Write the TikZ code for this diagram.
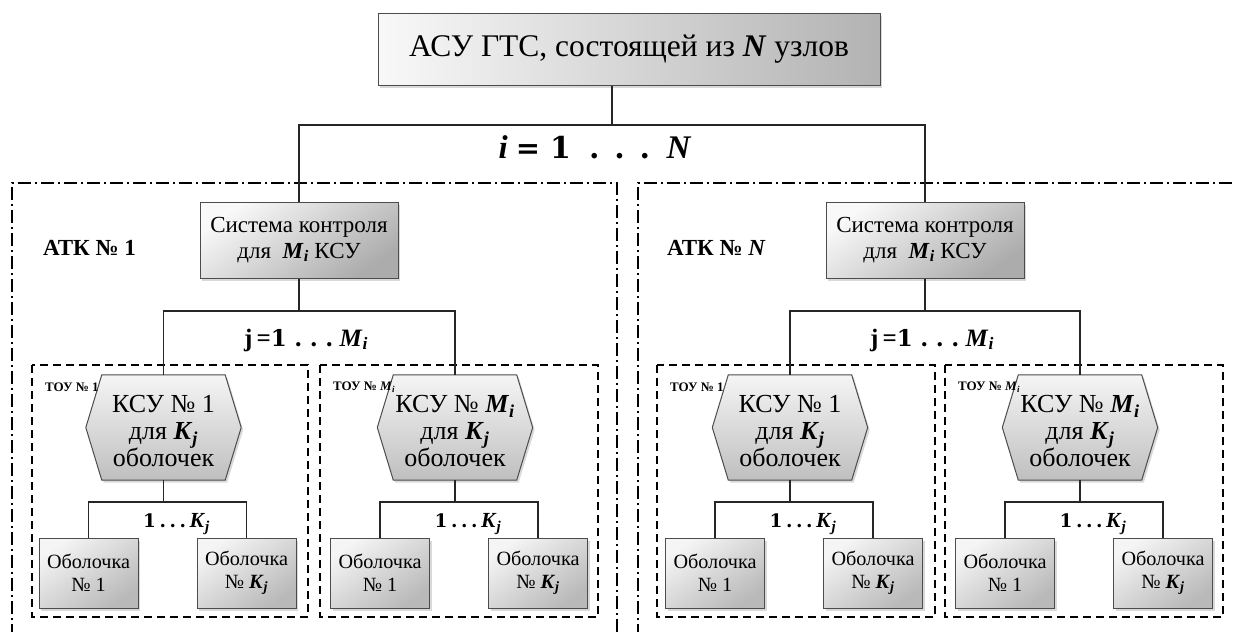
\documentclass[tikz,border=0pt]{standalone}
\usepackage{fontspec}
\setmainfont{Liberation Serif}
\newfontfamily\djs{DejaVu Serif}
\usetikzlibrary{shadows,calc}
\newcommand\bi[1]{\textbf{\textit{#1}}}
\newcommand\Mi{\bi{M}\textsubscript{\bi{i}}}
\newcommand\Kj{\bi{K}\textsubscript{\bi{j}}}
\newcommand\hv[2]{{\djs\bfseries\fontsize{#1}{#1}\selectfont #2}}
\begin{document}
\begin{tikzpicture}[x=1pt,y=-1pt,
  conn/.style={line width=1.5pt, draw=black!85},
  shadowed/.style={drop shadow={shadow xshift=2pt,shadow yshift=-2.5pt,opacity=0.3}},
  boxbase/.style={draw=black!70, line width=1pt, shadowed, inner sep=2pt, align=center},
  topbox/.style={boxbase, left color=gray!5, right color=gray!60, minimum width=502pt, minimum height=72pt, font=\fontsize{31.5}{36}\selectfont},
  sysbox/.style={boxbase, top color=gray!5, bottom color=gray!65, shading angle=35, minimum width=198pt, minimum height=76pt, font=\fontsize{23}{25.5}\selectfont},
  leafbox/.style={boxbase, top color=gray!8, bottom color=gray!55, shading angle=35, minimum width=99pt, minimum height=70pt, font=\fontsize{20.2}{23}\selectfont},
  hexshape/.style={inner sep=0pt, minimum width=155pt, minimum height=105pt},
  hextext/.style={inner sep=0pt, align=center, font=\fontsize{26}{27}\selectfont},
  hexfill/.style={draw=black!70, line width=1pt, top color=gray!8, bottom color=gray!50, shadowed},
  atk/.style={line width=1.6pt, dash pattern=on 13pt off 4pt on 2pt off 4pt},
  tou/.style={line width=1.8pt, dash pattern=on 8pt off 5pt},
  atklab/.style={anchor=west, inner sep=0pt, font=\fontsize{23}{26}\selectfont\bfseries},
  toulab/.style={anchor=west, inner sep=0pt, font=\fontsize{13}{15}\selectfont\bfseries},
  biglab/.style={font=\fontsize{33}{36}\selectfont\bfseries},
  jlab/.style={font=\fontsize{25}{28}\selectfont\bfseries},
  klab/.style={font=\fontsize{21.5}{25}\selectfont\bfseries}
]
\useasboundingbox (0,0) rectangle (1235,632);

% outer АТК frames
\draw[atk] (12,660) -- (12,183) -- (617,183) -- (617,660);
\draw[atk] (638,660) -- (638,183) -- (1260,183);

\node[atklab] (atkL) at (43,248) {АТК № 1};
\node[atklab] (atkR) at (667,248) {АТК № \bi{N}};

% top level
\node[topbox] (top) at (629,49) {АСУ ГТС, состоящей из \bi{N} узлов};
\node[sysbox] (sysL) at (299,240) {Система контроля\\для \ \Mi{} КСУ};
\node[sysbox] (sysR) at (925,240) {Система контроля\\для \ \Mi{} КСУ};

\coordinate (iy) at (0,125);
\coordinate (jy) at (0,311);
\coordinate (ky) at (0,502);
\coordinate (imid) at ($(sysL.north)!0.5!(sysR.north)$);

\draw[conn] (top.south -| imid) -- (imid |- iy);
\draw[conn] (sysL.north) -- (sysL.north |- iy) -- (sysR.north |- iy) -- (sysR.north);
\node[biglab] (ilab) at (595,147) {\bi{i}\hspace{0.25em}\hv{29}{=}\hspace{0.3em}\hv{30}{1}\hspace{0.55em}\hv{30}{.}\hspace{0.45em}\hv{30}{.}\hspace{0.45em}\hv{30}{.}\hspace{0.5em}\bi{N}};

\node[jlab] (jlabL) at (306,340) {j\,=\hv{23}{1}\hspace{0.3em}\hv{23}{.}\hspace{0.3em}\hv{23}{.}\hspace{0.3em}\hv{23}{.}\hspace{0.25em}\Mi};
\node[jlab] (jlabR) at (932,340) {j\,=\hv{23}{1}\hspace{0.3em}\hv{23}{.}\hspace{0.3em}\hv{23}{.}\hspace{0.3em}\hv{23}{.}\hspace{0.25em}\Mi};

% ТОУ groups
\foreach \n/\hx/\bl/\br/\hl/\tl in {
  L1/163.5/32/308/{КСУ № 1}/{ТОУ № 1},
  L2/455/320/598/{КСУ № \Mi}/{ТОУ № \Mi},
  R1/790/657/935/{КСУ № 1}/{ТОУ № 1},
  R2/1080/945/1223/{КСУ № \Mi}/{ТОУ № \Mi}}{
  \draw[tou] (\bl,365) rectangle (\br,617);
  \node[hexshape] (h\n) at (\hx,427.5) {};
  \path[hexfill] (h\n.west) -- ($(h\n.north west)+(16,0)$) -- ($(h\n.north east)+(-16,0)$)
      -- (h\n.east) -- ($(h\n.south east)+(-16,0)$) -- ($(h\n.south west)+(16,0)$) -- cycle;
  \node[hextext] (x\n) at ($(h\n.center)+(0,4)$) {\hl\\для \Kj\\оболочек};
  \node[toulab] (t\n) at (\bl+13,387) {\tl};
  \node[leafbox] (a\n) at (\hx-75,573) {Оболочка\\№ 1};
  \node[leafbox] (b\n) at (\hx+83,573) {Оболочка\\№ \Kj};
  \draw[conn] (h\n.south) -- (h\n.south |- ky);
  \draw[conn] (a\n.north) -- (a\n.north |- ky) -- (b\n.north |- ky) -- (b\n.north);
  \node[klab] (k\n) at (\hx+13,524) {\hv{18.5}{1}\,\hv{18.5}{.}\,\hv{18.5}{.}\,\hv{18.5}{.}\,\Kj};
}

\draw[conn] (sysL.south) -- (sysL.south |- jy);
\draw[conn] (hL1.north) -- (hL1.north |- jy) -- (hL2.north |- jy) -- (hL2.north);
\draw[conn] (sysR.south) -- (sysR.south |- jy);
\draw[conn] (hR1.north) -- (hR1.north |- jy) -- (hR2.north |- jy) -- (hR2.north);
\end{tikzpicture}
\end{document}
